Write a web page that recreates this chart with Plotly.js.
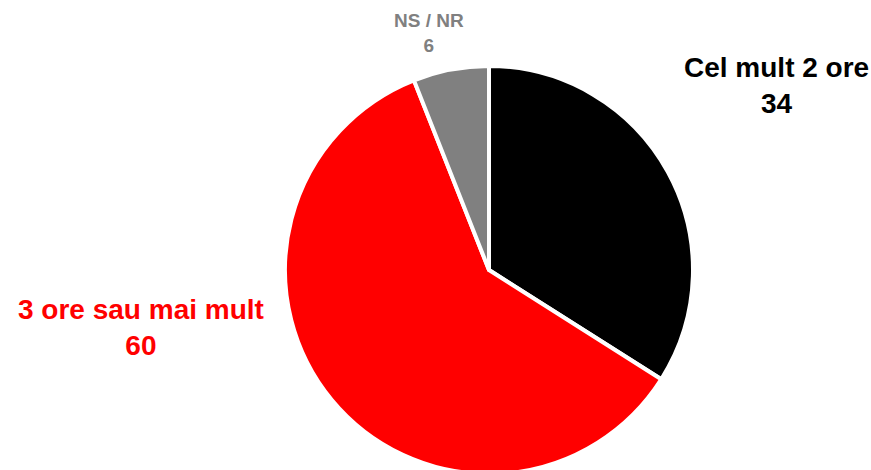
<!DOCTYPE html>
<html>
<head>
<meta charset="utf-8">
<script src="https://cdn.plot.ly/plotly-3.0.1.min.js"></script>
<style>
  html, body { margin: 0; padding: 0; overflow: hidden; background: #fff; }
  #chart { width: 871px; height: 480px; }
</style>
</head>
<body>
<div id="chart"></div>
<script>
const labels = ['Cel mult 2 ore', '3 ore sau mai mult', 'NS / NR'];
const values = [34, 60, 6];
const colors = ['#000000', '#ff0000', '#808080'];

const W = 871, H = 480;

// label placement in pixels (centre x, middle y) and font size
const labelPos = [
    { x: 776, y: 85, size: 28 },
    { x: 141, y: 327, size: 28 },
    { x: 429, y: 33, size: 19 }
];

const annotations = labels.map((lab, i) => ({
    xref: 'paper', yref: 'paper',
    x: labelPos[i].x / W,
    y: 1 - labelPos[i].y / H,
    xanchor: 'center', yanchor: 'middle',
    showarrow: false,
    align: 'center',
    text: `<b>${lab}<br>${values[i]}</b>`,
    font: { family: 'Liberation Sans, Arial, sans-serif', size: labelPos[i].size, color: colors[i] }
}));

const trace = {
    type: 'pie',
    labels: labels,
    values: values,
    sort: false,
    direction: 'clockwise',
    rotation: 0,
    textinfo: 'none',
    hoverinfo: 'label+value',
    marker: { colors: colors, line: { color: '#ffffff', width: 4 } },
    domain: { x: [285 / W, 693 / W], y: [6 / H, 414 / H] }
};

Plotly.newPlot('chart', [trace], {
    width: W,
    height: H,
    margin: { l: 0, r: 0, t: 0, b: 0 },
    showlegend: false,
    paper_bgcolor: '#ffffff',
    annotations: annotations
}, { displayModeBar: false, staticPlot: true });
</script>
</body>
</html>
